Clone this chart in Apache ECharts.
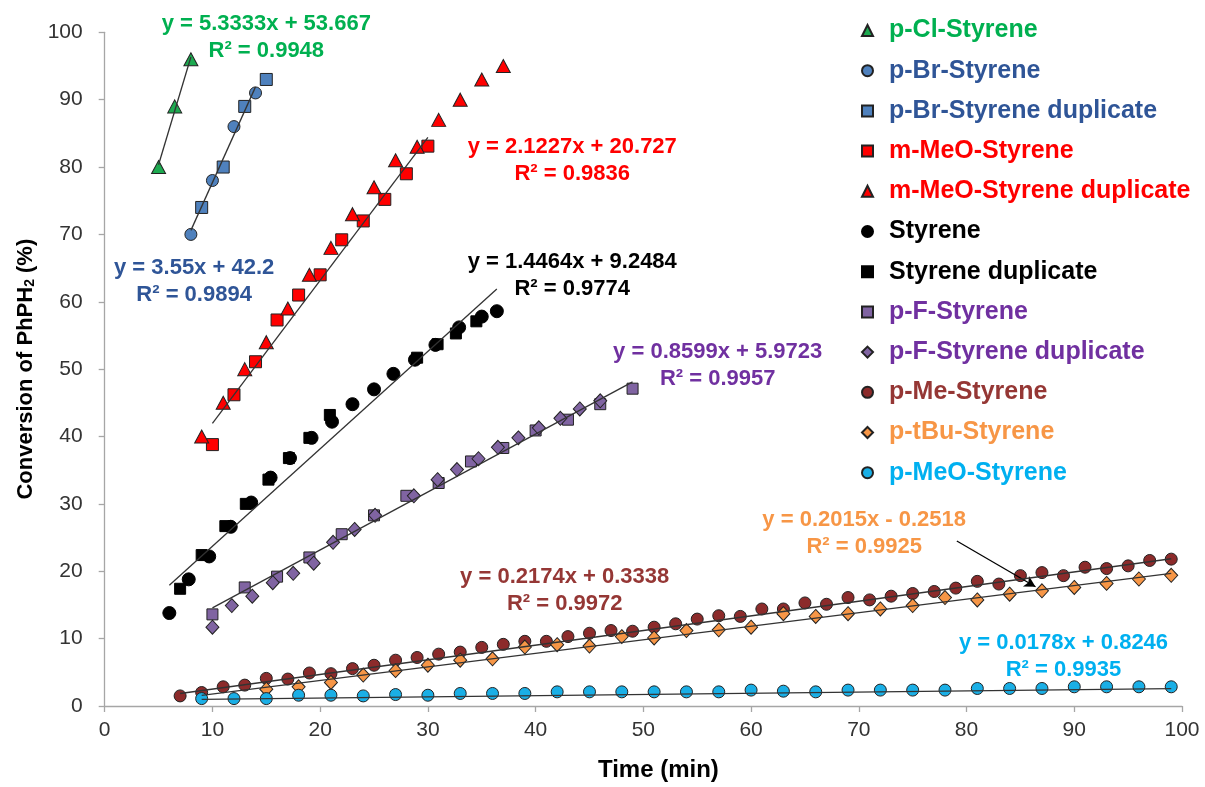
<!DOCTYPE html>
<html><head><meta charset="utf-8">
<script src="https://cdn.jsdelivr.net/npm/echarts@6/dist/echarts.min.js"></script>
<style>html,body{margin:0;padding:0;background:#fff}#c{width:1205px;height:787px}</style>
</head><body><div id="c"></div>
<script>
// ---------- data ----------
const seriesNames = ['p-Cl-Styrene','p-Br-Styrene','p-Br-Styrene duplicate','m-MeO-Styrene','m-MeO-Styrene duplicate','Styrene','Styrene duplicate','p-F-Styrene','p-F-Styrene duplicate','p-Me-Styrene','p-tBu-Styrene','p-MeO-Styrene'];
const pClX = [5, 6.5, 8];
const pClY = [80, 89, 96];
const pBrX = [8, 10, 12, 14];
const pBrY = [70, 78, 86, 91];
const pBrDupX = [9, 11, 13, 15];
const pBrDupY = [74, 80, 89, 93];
const mMeOX = [10, 12, 14, 16, 18, 20, 22, 24, 26, 28, 30];
const mMeOY = [38.8, 46.2, 51.1, 57.3, 61, 64, 69.2, 72, 75.2, 79, 83.1];
const mMeODupX = [9, 11, 13, 15, 17, 19, 21, 23, 25, 27, 29, 31, 33, 35, 37];
const mMeODupY = [40, 45, 50, 54, 59, 64, 68, 73, 77, 81, 83, 87, 90, 93, 95];
const styX = [6, 7.8, 9.7, 11.7, 13.6, 15.4, 17.2, 19.2, 21.1, 23, 25, 26.8, 28.8, 30.7, 32.9, 35, 36.4];
const styY = [13.8, 18.8, 22.2, 26.6, 30.2, 33.9, 36.8, 39.8, 42.2, 44.8, 47, 49.3, 51.4, 53.6, 56.2, 57.8, 58.6];
const styDupX = [7, 9, 11.2, 13.1, 15.2, 17.1, 19, 20.9, 29, 30.9, 32.6, 34.5];
const styDupY = [17.4, 22.4, 26.7, 30, 33.6, 36.8, 39.8, 43.2, 51.7, 53.7, 55.3, 57.1];
const pFX = [10, 13, 16, 19, 22, 25, 28, 31, 34, 37, 40, 43, 46, 49];
const pFY = [13.6, 17.6, 19.2, 22.05, 25.5, 28.3, 31.2, 33.1, 36.3, 38.3, 40.9, 42.5, 44.8, 47.1];
const pFDupX = [10, 11.8, 13.7, 15.6, 17.5, 19.4, 21.2, 23.2, 25.1, 28.7, 30.9, 32.7, 34.7, 36.5, 38.4, 40.3, 42.3, 44.1, 46];
const pFDupY = [11.7, 14.9, 16.3, 18.3, 19.7, 21.2, 24.3, 26.2, 28.3, 31.2, 33.6, 35.1, 36.7, 38.4, 39.8, 41.3, 42.7, 44.1, 45.3];
const pMeX = [7,9,11,13,15,17,19,21,23,25,27,29,31,33,35,37,39,41,43,45,47,49,51,53,55,57,59,61,63,65,67,69,71,73,75,77,79,81,83,85,87,89,91,93,95,97,99];
const pMeY = [1.5,2.0,2.85,3.1,4.1,4.0,4.9,4.8,5.55,6.05,6.8,7.2,7.7,8.0,8.7,9.15,9.6,9.6,10.3,10.8,11.2,11.1,11.7,12.2,12.9,13.4,13.3,14.4,14.4,15.3,15.1,16.1,15.75,16.3,16.7,17.0,17.5,18.5,18.1,19.35,19.8,19.35,20.6,20.4,20.8,21.6,21.8];
const pTBuX = [15,18,21,24,27,30,33,36,39,42,45,48,51,54,57,60,63,66,69,72,75,78,81,84,87,90,93,96,99];
const pTBuY = [2.5,2.85,3.5,4.6,5.25,6.05,6.8,7.0,8.75,9.1,8.9,10.3,10.1,11.2,11.3,11.7,13.7,13.3,13.7,14.4,14.9,16.1,15.75,16.6,17.1,17.6,18.2,18.85,19.4];
const pMeOX = [9,12,15,18,21,24,27,30,33,36,39,42,45,48,51,54,57,60,63,66,69,72,75,78,81,84,87,90,93,96,99];
const pMeOY = [1.1,1.1,1.1,1.6,1.6,1.5,1.7,1.6,1.86,1.86,1.86,2.1,2.1,2.1,2.1,2.1,2.1,2.36,2.2,2.1,2.36,2.36,2.36,2.36,2.6,2.6,2.6,2.85,2.85,2.85,2.85];

// trendlines (Excel linear fits)
const trendSlope     = [5.3333, 3.55, 2.1227, 1.4464, 0.8599, 0.2174, 0.2015, 0.0178];
const trendIntercept = [53.667, 42.2, 20.727, 9.2484, 5.9723, 0.3338, -0.2518, 0.8246];
const trendStart     = [5, 8, 10, 6, 10, 7, 9, 9];
const trendEnd       = [8, 14, 30, 36.4, 49, 99, 99, 99];
const trendR2        = ['0.9948', '0.9894', '0.9836', '0.9774', '0.9957', '0.9972', '0.9925', '0.9935'];
const eqText = ['y = 5.3333x + 53.667', 'y = 3.55x + 42.2', 'y = 2.1227x + 20.727', 'y = 1.4464x + 9.2484', 'y = 0.8599x + 5.9723', 'y = 0.2174x + 0.3338', 'y = 0.2015x - 0.2518', 'y = 0.0178x + 0.8246'];

// ---------- styling ----------
const xs = [pClX,pBrX,pBrDupX,mMeOX,mMeODupX,styX,styDupX,pFX,pFDupX,pMeX,pTBuX,pMeOX];
const ys = [pClY,pBrY,pBrDupY,mMeOY,mMeODupY,styY,styDupY,pFY,pFDupY,pMeY,pTBuY,pMeOY];
const symbols = ['triangle','circle','rect','rect','triangle','circle','rect','rect','diamond','circle','diamond','circle'];
const symSizes = [[14,13],12,12,12,[14,13],13,11,11,[13,14],12,[13,14],12];
const fills = ['#1DAA50','#4F81BD','#4F81BD','#FF0000','#FF0000','#000000','#000000','#8064A2','#8064A2','#8C2B2B','#F79646','#1AAFE6'];
const textColors = ['#00B050','#2F5597','#2F5597','#FF0000','#FF0000','#000000','#000000','#7030A0','#7030A0','#953735','#F79646','#00B0F0'];
const annoColors = ['#00B050','#2F5597','#FF0000','#000000','#7030A0','#953735','#F79646','#00B0F0'];
const annoPos = [[15.0,99.3],[8.3,63.0],[43.4,81.0],[43.4,63.9],[56.9,50.6],[42.7,17.2],[70.5,25.6],[89.0,7.3]];
const FONT = 'Liberation Sans, Arial, sans-serif';

const series = [];
seriesNames.forEach((n,i)=>{
  series.push({
    name:n, type:'scatter', symbol:symbols[i], symbolSize:symSizes[i], z:3,
    itemStyle:{color:fills[i], borderColor: i===5||i===6 ? '#000' : '#222', borderWidth:1, opacity:1},
    data: xs[i].map((x,k)=>[x, ys[i][k]])
  });
});
trendSlope.forEach((m,i)=>{
  const b = trendIntercept[i];
  series.push({
    name:'trend'+i, type:'line', z:5, showSymbol:false, silent:true,
    lineStyle:{color:'#333', width:1.3},
    data:[[trendStart[i], m*trendStart[i]+b],[trendEnd[i], m*trendEnd[i]+b]]
  });
});
series.push({
  name:'annotations', type:'scatter', symbolSize:0, z:6, silent:true,
  itemStyle:{opacity:1},
  data: annoPos.map((p,i)=>({value:p, label:{show:true, position:'inside', formatter: eqText[i]+'\n'+'R² = '+trendR2[i],
    color:annoColors[i], opacity:1, fontFamily:FONT, fontWeight:'bold', fontSize:22, lineHeight:27, align:'center'}})),
  markLine:{silent:true, symbol:['none','arrow'], symbolSize:[9,11], label:{show:false},
    lineStyle:{color:'#000', width:1.3, type:'solid', opacity:1},
    data:[[{coord:[79.1,24.5]},{coord:[86.4,17.7]}]]}
});

const chart = echarts.init(document.getElementById('c'), null, {renderer:'canvas'});
chart.setOption({
  animation:false,
  backgroundColor:'#fff',
  grid:{left:104.7, top:32.3, right:23, bottom:77.7, containLabel:false},
  legend:{
    orient:'vertical', left:856, top:13, itemWidth:11, itemHeight:11, itemGap:15.2,
    selectedMode:false,
    textStyle:{fontFamily:FONT, fontWeight:'bold', fontSize:25, lineHeight:24, padding:[0,0,0,11]},
    data: seriesNames.map((n,i)=>({name:n, textStyle:{color:textColors[i]}}))
  },
  xAxis:{type:'value', min:0, max:100, interval:10,
    name:'Time (min)', nameLocation:'middle', nameGap:52,
    nameTextStyle:{fontFamily:FONT, fontWeight:'bold', fontSize:24, color:'#000', padding:[0,0,0,30]},
    axisLine:{lineStyle:{color:'#A6A6A6', width:1.3}},
    axisTick:{show:true, inside:false, length:6, lineStyle:{color:'#A6A6A6', width:1.3}},
    axisLabel:{fontFamily:FONT, fontSize:21, color:'#333', margin:14},
    splitLine:{show:false}},
  yAxis:{type:'value', min:0, max:100, interval:10,
    name:'Conversion of PhPH{s|2} (%)', nameLocation:'middle', nameGap:64, nameRotate:90,
    nameTextStyle:{fontFamily:FONT, fontWeight:'bold', fontSize:22, color:'#000',
      rich:{s:{fontFamily:FONT, fontWeight:'bold', fontSize:14, color:'#000', verticalAlign:'bottom', padding:[8,0,0,0]}}},
    axisLine:{show:true, lineStyle:{color:'#A6A6A6', width:1.3}},
    axisTick:{show:true, inside:false, length:6, lineStyle:{color:'#A6A6A6', width:1.3}},
    axisLabel:{fontFamily:FONT, fontSize:21, color:'#333', margin:22},
    splitLine:{show:false}},
  series: series
});
</script></body></html>
